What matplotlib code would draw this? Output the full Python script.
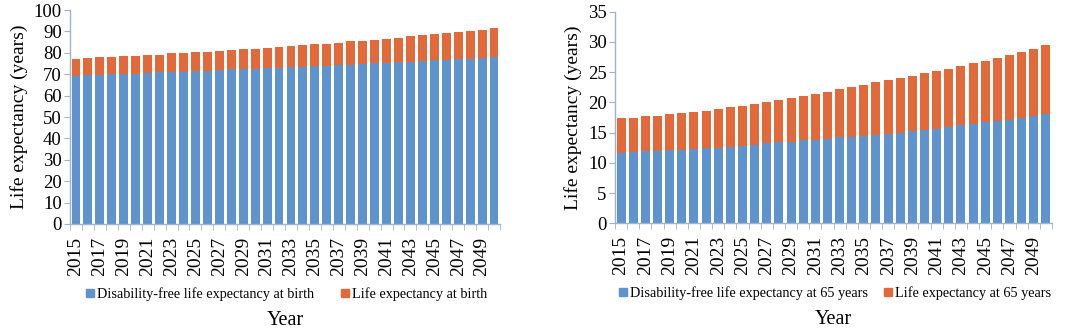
import matplotlib
matplotlib.use("Agg")
import matplotlib.pyplot as plt
from matplotlib.lines import Line2D
import numpy as np

plt.rcParams['font.family'] = ['Liberation Serif', 'DejaVu Serif']

years = list(range(2015, 2051))
tick_years = list(range(2015, 2050, 2))

birth_total = [76.9, 77.6, 78.0, 78.0, 78.4, 78.6, 78.9, 79.2, 79.7, 80.0, 80.3, 80.5,
               80.9, 81.2, 81.7, 82.0, 82.3, 82.8, 83.1, 83.6, 83.9, 84.2, 84.7, 85.3,
               85.6, 86.1, 86.6, 87.0, 87.7, 88.1, 88.7, 89.2, 89.7, 90.3, 90.8, 91.4]
birth_free = [69.3, 69.5, 69.7, 69.9, 70.1, 70.3, 70.5, 70.8, 71.0, 71.2, 71.5, 71.7,
              72.0, 72.2, 72.4, 72.6, 72.8, 73.1, 73.3, 73.5, 73.8, 74.0, 74.3, 74.5,
              74.8, 75.1, 75.4, 75.6, 75.9, 76.2, 76.5, 76.8, 77.0, 77.3, 77.6, 77.9]

age65_total = [17.4, 17.5, 17.7, 17.8, 18.0, 18.2, 18.4, 18.6, 18.9, 19.2, 19.4, 19.8,
               20.1, 20.4, 20.7, 21.1, 21.4, 21.8, 22.2, 22.5, 22.8, 23.3, 23.7, 24.1,
               24.4, 24.8, 25.2, 25.6, 26.1, 26.5, 26.9, 27.4, 27.9, 28.4, 28.9, 29.5]
age65_free = [11.7, 11.8, 11.9, 12.0, 12.1, 12.2, 12.3, 12.4, 12.5, 12.7, 12.8, 13.0,
              13.2, 13.4, 13.5, 13.7, 13.8, 13.9, 14.2, 14.3, 14.4, 14.6, 14.8, 15.0,
              15.2, 15.4, 15.6, 15.9, 16.2, 16.4, 16.7, 16.9, 17.1, 17.4, 17.8, 18.05]

panels = [
    dict(total=birth_total, free=birth_free, ymax=100, ystep=10,
         labels=["Disability-free life expectancy at birth", "Life expectancy at birth"],
         rect=[70/1080, 1-224/333, 430/1080, 214/333], colsp=1.6),
    dict(total=age65_total, free=age65_free, ymax=35, ystep=5,
         labels=["Disability-free life expectancy at 65 years", "Life expectancy at 65 years"],
         rect=[615/1080, 1-223.3/333, 437/1080, 211.6/333], colsp=0.9),
]

BLUE = '#5E93CD'
ORANGE = '#E2693A'
SPINE = '#9DB4CE'

fig = plt.figure(figsize=(10.8, 3.33), dpi=100)

for p in panels:
    ax = fig.add_axes(p['rect'])
    x = np.arange(len(years))
    free = np.array(p['free'])
    gap = np.array(p['total']) - free
    ax.bar(x, free, width=0.74, color=BLUE, zorder=2)
    ax.bar(x, gap, bottom=free, width=0.74, color=ORANGE, zorder=2)
    ax.set_xlim(-0.5, len(years) - 0.5)
    ax.set_ylim(0, p['ymax'])
    ax.set_yticks(np.arange(0, p['ymax'] + 0.1, p['ystep']))
    ax.set_xticks([years.index(y) for y in tick_years])
    ax.set_xticklabels([str(y) for y in tick_years], rotation=90)
    ax.set_xticks(np.arange(-0.5, len(years), 1), minor=True)
    ax.tick_params(axis='x', which='major', length=0, pad=9, labelsize=14)
    ax.tick_params(axis='x', which='minor', length=4, color=SPINE, direction='out')
    ax.tick_params(axis='y', length=4, color=SPINE, labelsize=13.5, pad=2)
    for s in ['top', 'right']:
        ax.spines[s].set_visible(False)
    for s in ['left', 'bottom']:
        ax.spines[s].set_color(SPINE)
        ax.spines[s].set_linewidth(1.0)
    ax.set_ylabel("Life expectancy (years)", fontsize=14, labelpad=4)
    ax.set_xlabel("Year", fontsize=14.5, labelpad=25)
    handles = [Line2D([], [], marker='s', linestyle='', color=BLUE, markersize=5.5),
               Line2D([], [], marker='s', linestyle='', color=ORANGE, markersize=5.5)]
    ax.legend(handles, p['labels'], loc='upper center', bbox_to_anchor=(0.5, -0.27),
              ncol=2, frameon=False, fontsize=10.3, handletextpad=0.0,
              columnspacing=p['colsp'], borderaxespad=0, handlelength=1.0)

fig.savefig("out.png", dpi=100)
